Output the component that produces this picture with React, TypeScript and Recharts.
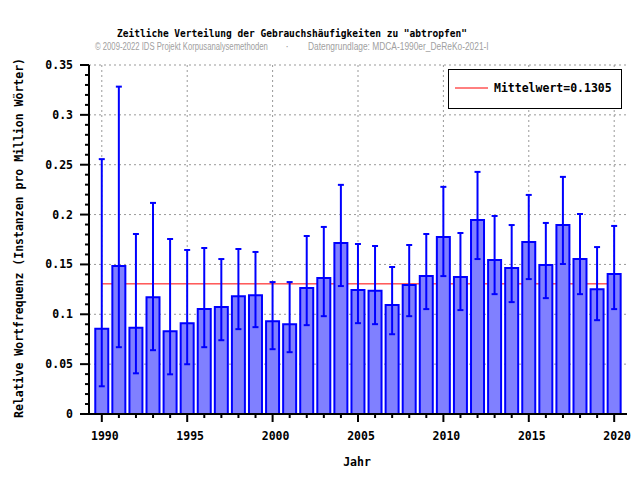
import { ComposedChart, Bar, ErrorBar, XAxis, YAxis, CartesianGrid, ReferenceLine } from 'recharts'

const years = [1990, 1991, 1992, 1993, 1994, 1995, 1996, 1997, 1998, 1999, 2000, 2001, 2002, 2003, 2004, 2005, 2006, 2007, 2008, 2009, 2010, 2011, 2012, 2013, 2014, 2015, 2016, 2017, 2018, 2019, 2020]
const values = [0.0854, 0.1484, 0.0864, 0.1172, 0.0831, 0.0911, 0.1052, 0.1072, 0.1182, 0.1192, 0.0931, 0.0901, 0.1263, 0.1363, 0.1715, 0.1243, 0.1236, 0.1092, 0.1293, 0.1383, 0.1775, 0.1373, 0.1946, 0.1544, 0.1463, 0.1725, 0.1494, 0.1895, 0.1554, 0.1252, 0.1403]
const lower = [0.0278, 0.0670, 0.0408, 0.0640, 0.0398, 0.0499, 0.0670, 0.0740, 0.0851, 0.0871, 0.0650, 0.0620, 0.0891, 0.0981, 0.1283, 0.0911, 0.0901, 0.0800, 0.0981, 0.1052, 0.1383, 0.1042, 0.1554, 0.1202, 0.1122, 0.1353, 0.1162, 0.1504, 0.1202, 0.0941, 0.1052]
const upper = [0.2556, 0.3283, 0.1805, 0.2117, 0.1755, 0.1645, 0.1665, 0.1554, 0.1655, 0.1625, 0.1323, 0.1323, 0.1785, 0.1876, 0.2298, 0.1705, 0.1685, 0.1474, 0.1695, 0.1805, 0.2278, 0.1815, 0.2428, 0.1986, 0.1895, 0.2197, 0.1916, 0.2378, 0.2006, 0.1674, 0.1886]
const meanValue = 0.1305

const majorYears = [1990, 1995, 2000, 2005, 2010, 2015, 2020]
const yTicks = [0, 0.01, 0.02, 0.03, 0.04, 0.05, 0.06, 0.07, 0.08, 0.09, 0.1, 0.11, 0.12, 0.13, 0.14, 0.15, 0.16, 0.17, 0.18, 0.19, 0.2, 0.21, 0.22, 0.23, 0.24, 0.25, 0.26, 0.27, 0.28, 0.29, 0.3, 0.31, 0.32, 0.33, 0.34, 0.35]
const majorYTicks = [0, 0.05, 0.1, 0.15, 0.2, 0.25, 0.3, 0.35]

const data = years.map((year, i) => ({
  year,
  value: values[i],
  err: [values[i] - lower[i], upper[i] - values[i]]
}))

const mono = "'DejaVu Sans Mono', monospace"
const sans = "'Liberation Sans', sans-serif"
const xDomain = [1989.25, 2020.75]

function XTick ({ x, y, payload }: any) {
  const major = payload.value % 5 === 0
  return (
    <g>
      <line x1={x} x2={x} y1={y} y2={y + (major ? 8 : 4)} stroke="#000" strokeWidth={2} />
      {major && (
        <text x={x + 3} y={y + 26} textAnchor="middle" fontFamily={mono} fontWeight="bold" fontSize={11.5} fill="#000">
          {payload.value}
        </text>
      )}
    </g>
  )
}

function YTick ({ x, y, payload }: any) {
  const major = Math.round(payload.value * 100) % 5 === 0
  return (
    <g>
      <line x1={x - (major ? 9 : 4)} x2={x} y1={y} y2={y} stroke="#000" strokeWidth={2} />
      {major && (
        <text x={x - 16} y={y + 4} textAnchor="end" fontFamily={mono} fontWeight="bold" fontSize={11.5} fill="#000">
          {String(Number(payload.value.toFixed(2)))}
        </text>
      )}
    </g>
  )
}

export default function App () {
  return (
    <div style={{ position: 'absolute', left: 0, top: 0, width: 640, height: 480, background: '#fff' }}>
      <ComposedChart width={640} height={480} data={data} margin={{ top: 65, right: 13, bottom: 0, left: 0 }}>
        <CartesianGrid stroke="#999" strokeDasharray="2 3" horizontalValues={majorYTicks} verticalValues={majorYears} />
        <XAxis
          dataKey="year"
          type="number"
          domain={xDomain}
          ticks={years}
          interval={0}
          allowDataOverflow
          height={66}
          tickSize={0}
          tickMargin={0}
          tickLine={false}
          tick={<XTick />}
          axisLine={{ stroke: '#000', strokeWidth: 2 }}
        />
        <XAxis xAxisId="top" orientation="top" type="number" domain={xDomain} height={0} tick={false} tickLine={false} axisLine={{ stroke: '#000', strokeWidth: 2 }} />
        <YAxis
          type="number"
          domain={[0, 0.35]}
          ticks={yTicks}
          interval={0}
          allowDataOverflow
          width={89}
          tickSize={0}
          tickMargin={0}
          tickLine={false}
          tick={<YTick />}
          axisLine={{ stroke: '#000', strokeWidth: 2 }}
        />
        <YAxis yAxisId="right" orientation="right" width={0} tick={false} tickLine={false} axisLine={{ stroke: '#000', strokeWidth: 2 }} />
        <ReferenceLine
          segment={[{ x: 1990, y: meanValue }, { x: 2020, y: meanValue }]}
          stroke="#ff0000"
          strokeWidth={1}
          zIndex={100}
        />
        <Bar dataKey="value" barSize={13} fill="#8080ff" stroke="#0000ff" strokeWidth={2} isAnimationActive={false}>
          <ErrorBar dataKey="err" width={3} stroke="#0000ff" strokeWidth={2} isAnimationActive={false} />
        </Bar>
      </ComposedChart>
      <svg width={640} height={480} style={{ position: 'absolute', left: 0, top: 0, pointerEvents: 'none' }}>
        <text x={117} y={37} fontFamily={mono} fontWeight="bold" fontSize={10} textLength={350} lengthAdjust="spacingAndGlyphs" fill="#000">
          Zeitliche Verteilung der Gebrauchshäufigkeiten zu "abtropfen"
        </text>
        <g transform="translate(95 50) scale(0.70 1)">
          <text x={0} y={0} fontFamily={sans} fontSize={11} fill="#a0a0a0">
            © 2009-2022 IDS Projekt Korpusanalysemethoden
          </text>
        </g>
        <text x={287} y={50} textAnchor="middle" fontFamily={sans} fontSize={11} fill="#a0a0a0">·</text>
        <g transform="translate(308 50) scale(0.763 1)">
          <text x={0} y={0} fontFamily={sans} fontSize={11} fill="#a0a0a0">
            Datengrundlage: MDCA-1990er_DeReKo-2021-I
          </text>
        </g>
        <text x={19} y={238} transform="rotate(-90 19 238)" textAnchor="middle" dominantBaseline="central" fontFamily={mono} fontWeight="bold" fontSize={11.5} fill="#000">
          Relative Wortfrequenz (Instanzen pro Million Wörter)
        </text>
        <text x={357} y={466} textAnchor="middle" fontFamily={mono} fontWeight="bold" fontSize={11.5} fill="#000">Jahr</text>
        <rect x={448.5} y={69.5} width={173} height={39} fill="#fff" stroke="#000" strokeWidth={1} />
        <line x1={455} x2={488} y1={88} y2={88} stroke="#ff0000" strokeWidth={1} />
        <text x={494} y={92} fontFamily={mono} fontWeight="bold" fontSize={11.5} fill="#000">Mittelwert=0.1305</text>
      </svg>
    </div>
  )
}
